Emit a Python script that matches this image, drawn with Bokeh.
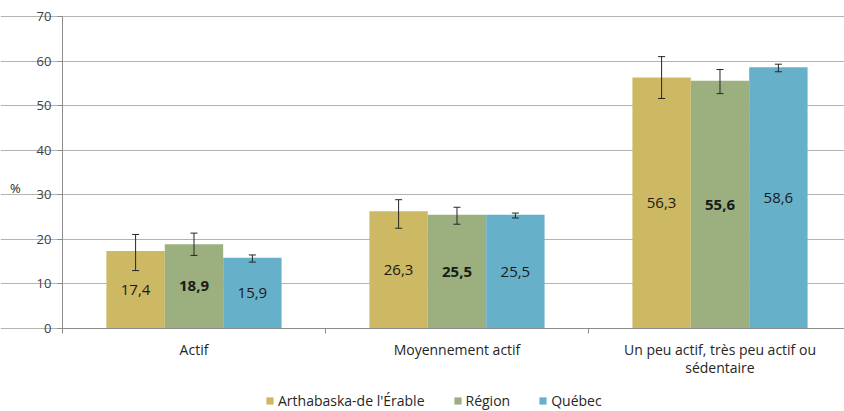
from bokeh.plotting import figure
from bokeh.models import (ColumnDataSource, Whisker, TeeHead, LabelSet, Label,
                          FixedTicker, Legend, LegendItem)
from bokeh.core.properties import value
from bokeh.embed import file_html
from bokeh.resources import INLINE

categories = ["Actif", "Moyennement actif", "Un peu actif, très peu actif ou\nsédentaire"]
series = ["Arthabaska-de l'Érable", "Région", "Québec"]
colors = ["#CDB864", "#9BB07E", "#67B0C9"]

arthabaska = [17.4, 26.3, 56.3]
region = [18.9, 25.5, 55.6]
quebec = [15.9, 25.5, 58.6]

arthabaska_low = [13.0, 22.5, 51.6]
arthabaska_high = [21.1, 28.9, 61.0]
region_low = [16.4, 23.4, 52.7]
region_high = [21.4, 27.2, 58.1]
quebec_low = [14.9, 24.8, 57.6]
quebec_high = [16.5, 25.9, 59.3]

FONT = "Open Sans"
TXT = "#262626"

p = figure(width=844, height=411, output_backend="svg", toolbar_location=None,
           x_range=(-0.2357, 2.9734), y_range=(-18.62, 73.59),
           min_border_left=0, min_border_right=0, min_border_top=0,
           min_border_bottom=0)
p.outline_line_color = None
p.xgrid.grid_line_color = None
p.ygrid.grid_line_color = "#B3B3B3"
p.ygrid.grid_line_width = 1
p.ygrid.bounds = (0, 3)

# y axis
p.yaxis.fixed_location = 0
p.yaxis.bounds = (0, 70)
p.yaxis.ticker = FixedTicker(ticks=list(range(0, 71, 10)))
p.yaxis.axis_line_color = "#8C8C8C"
p.yaxis.major_tick_line_color = "#8C8C8C"
p.yaxis.major_tick_out = 5
p.yaxis.major_tick_in = 0
p.yaxis.minor_tick_line_color = None
p.yaxis.major_label_text_font = FONT
p.yaxis.major_label_text_font_size = "13px"
p.yaxis.major_label_text_color = "#404040"
p.yaxis.major_label_standoff = 6

# x axis
centers = [i + 0.5 for i in range(len(categories))]
p.xaxis.fixed_location = 0
p.xaxis.bounds = (0, 3)
p.xaxis.ticker = FixedTicker(ticks=centers, minor_ticks=[0, 1, 2, 3])
p.xaxis.major_label_overrides = {c: lab for c, lab in zip(centers, categories)}
p.xaxis.axis_line_color = "#8C8C8C"
p.xaxis.major_tick_line_color = None
p.xaxis.minor_tick_line_color = "#8C8C8C"
p.xaxis.minor_tick_out = 5
p.xaxis.minor_tick_in = 0
p.xaxis.major_label_text_font = FONT
p.xaxis.major_label_text_font_size = "14px"
p.xaxis.major_label_text_color = TXT
p.xaxis.major_label_standoff = 5
p.xaxis.major_label_text_line_height = 0.95

offsets = [-0.222, 0.0, 0.222]
width = 0.222
vals = [arthabaska, region, quebec]
lows = [arthabaska_low, region_low, quebec_low]
highs = [arthabaska_high, region_high, quebec_high]
styles = ["normal", "bold", "normal"]

items = []
for k in range(3):
    xs = [c + offsets[k] for c in centers]
    src = ColumnDataSource(dict(
        x=xs, top=vals[k], mid=[v / 2 for v in vals[k]],
        lab=[f"{v:.1f}".replace(".", ",") for v in vals[k]],
        lo=lows[k], hi=highs[k]))
    r = p.vbar(x="x", top="top", width=width, source=src,
               fill_color=colors[k], line_color=None)
    items.append(LegendItem(label=series[k], renderers=[r]))
    w = Whisker(base="x", upper="hi", lower="lo", source=src,
                line_color="#262626", line_width=1, level="overlay",
                upper_head=TeeHead(size=7, line_color="#262626", line_width=1),
                lower_head=TeeHead(size=7, line_color="#262626", line_width=1))
    p.add_layout(w)
    ls = LabelSet(x="x", y="mid", text="lab", source=src,
                  text_align="center", text_baseline="middle",
                  text_font=value(FONT), text_font_size=value("15px"),
                  text_font_style=value(styles[k]), text_color=value("#1a1a1a"))
    p.add_layout(ls)

pct = Label(x=-0.1787, y=31.6, text="%", text_align="center",
            text_baseline="middle", text_font=FONT,
            text_font_size="13px", text_color=TXT)
p.add_layout(pct)

legend = Legend(items=items, orientation="horizontal", location=(265, 1),
                glyph_width=9, glyph_height=9, label_standoff=4, spacing=28,
                padding=0, margin=0, border_line_color=None,
                background_fill_alpha=0,
                label_text_font=FONT, label_text_font_size="14px",
                label_text_color=TXT, label_height=16)
p.add_layout(legend, "center")

open("out.html", "w").write(file_html(p, INLINE))
